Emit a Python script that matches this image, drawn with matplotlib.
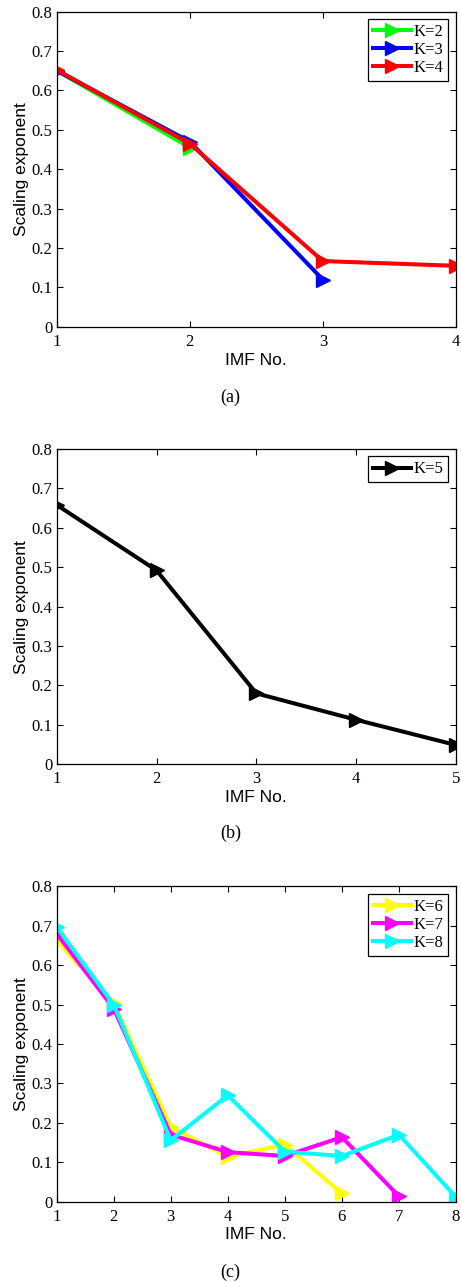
import matplotlib.pyplot as plt
import numpy as np

plt.rcParams.update({
    "font.size": 12,
    "font.family": "Liberation Serif",
    "xtick.direction": "in",
    "ytick.direction": "in",
    "xtick.top": True,
    "ytick.right": True,
    "axes.linewidth": 0.9,
})

# ----- data ----------------------------------------------------------------
imf_a = [1, 2, 3, 4]
k2 = [0.650, 0.455]
k3 = [0.650, 0.470, 0.120]
k4 = [0.652, 0.465, 0.167, 0.155]

imf_b = [1, 2, 3, 4, 5]
k5 = [0.658, 0.492, 0.180, 0.113, 0.049]

imf_c = [1, 2, 3, 4, 5, 6, 7, 8]
k6 = [0.663, 0.503, 0.190, 0.114, 0.145, 0.021]
k7 = [0.680, 0.490, 0.170, 0.126, 0.116, 0.164, 0.014]
k8 = [0.697, 0.500, 0.156, 0.270, 0.127, 0.116, 0.170, 0.012]

yticks = np.arange(0, 0.81, 0.1)
ytick_labels = ["0", "0.1", "0.2", "0.3", "0.4", "0.5", "0.6", "0.7", "0.8"]

fig = plt.figure(figsize=(4.61, 12.82), dpi=100)

panels = [
    (0.745, imf_a, [(k2, "#00ff00", "K=2"), (k3, "#0000ff", "K=3"), (k4, "#ff0000", "K=4")], "(a)", 397),
    (0.4038, imf_b, [(k5, "#000000", "K=5")], "(b)", 833),
    (0.0626, imf_c, [(k6, "#ffff00", "K=6"), (k7, "#ff00ff", "K=7"), (k8, "#00ffff", "K=8")], "(c)", 1272),
]

for bottom, xs, series, tag, tag_y in panels:
    ax = fig.add_axes([0.123, bottom, 0.866, 0.246])
    for vals, col, lab in series:
        ax.plot(xs[:len(vals)], vals, color=col, lw=2.9, marker=">",
                markersize=10.5, label=lab)
    ax.set_xlim(xs[0], xs[-1])
    ax.set_ylim(0, 0.8)
    ax.set_xticks(xs)
    ax.set_yticks(yticks)
    ax.set_yticklabels(ytick_labels)
    ax.tick_params(axis="both", length=4, width=0.8, labelsize=12)
    ax.tick_params(axis="x", pad=5)
    ax.tick_params(axis="y", pad=3)
    ax.set_xlabel("IMF No.", family="Liberation Sans", fontsize=12.5, labelpad=2)
    ax.set_ylabel("Scaling exponent", family="Liberation Sans", fontsize=12.5, labelpad=2)
    leg = ax.legend(loc="upper right", fontsize=12, handlelength=2.3,
                    handletextpad=0.15, borderpad=0.3, labelspacing=0.12,
                    fancybox=False, framealpha=1, borderaxespad=0.45)
    leg.get_frame().set_edgecolor("black")
    leg.get_frame().set_linewidth(0.9)
    fig.text(0.5, 1 - tag_y / 1282, tag, ha="center", va="center", fontsize=13)

fig.savefig("out.png", dpi=100)
